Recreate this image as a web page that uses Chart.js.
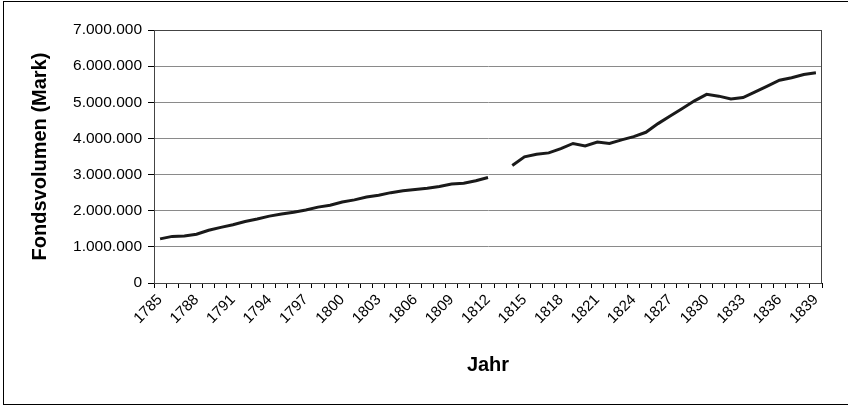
<!DOCTYPE html>
<html>
<head>
<meta charset="utf-8">
<script src="https://cdn.jsdelivr.net/npm/chart.js@4/dist/chart.umd.min.js"></script>
<style>
    html, body { margin: 0; padding: 0; background: #fff; overflow: hidden; }
    #wrap { position: relative; width: 848px; height: 407px; }
    #frame {
        position: absolute; left: 3px; top: 1px; width: 860px; height: 402px;
        border: 1px solid #000; pointer-events: none;
    }
</style>
</head>
<body>
<div id="wrap">
    <canvas id="fondsChart" width="848" height="407"></canvas>
    <div id="frame"></div>
</div>
<script>
const years = [
    "1785", "1786", "1787", "1788", "1789", "1790", "1791", "1792", "1793", "1794",
    "1795", "1796", "1797", "1798", "1799", "1800", "1801", "1802", "1803", "1804",
    "1805", "1806", "1807", "1808", "1809", "1810", "1811", "1812", "1813", "1814",
    "1815", "1816", "1817", "1818", "1819", "1820", "1821", "1822", "1823", "1824",
    "1825", "1826", "1827", "1828", "1829", "1830", "1831", "1832", "1833", "1834",
    "1835", "1836", "1837", "1838", "1839"
];

// Fondsvolumen in Mark (1813 fehlt)
const fondsVolumen = [
    1220000, 1290000, 1300000, 1350000, 1460000, 1540000, 1610000, 1700000, 1770000, 1850000,
    1910000, 1960000, 2020000, 2100000, 2150000, 2240000, 2300000, 2380000, 2430000, 2500000,
    2550000, 2590000, 2620000, 2670000, 2740000, 2760000, 2830000, 2920000, null, 3250000,
    3490000, 3560000, 3600000, 3720000, 3860000, 3790000, 3900000, 3860000, 3960000, 4050000,
    4170000, 4410000, 4620000, 4830000, 5040000, 5220000, 5170000, 5090000, 5130000, 5290000,
    5450000, 5610000, 5680000, 5770000, 5820000
];

const yTicks = [0, 1000000, 2000000, 3000000, 4000000, 5000000, 6000000, 7000000];
const labelEvery = 3;

const fontFamily = "'Liberation Sans', Arial, sans-serif";

function formatMark(value) {
    return String(value).replace(/\B(?=(\d{3})+(?!\d))/g, ".");
}

new Chart(document.getElementById("fondsChart"), {
    type: "line",
    data: {
        labels: years,
        datasets: [
            {
                label: "Fondsvolumen",
                data: fondsVolumen,
                borderColor: "#1a1a1a",
                borderWidth: 3,
                pointRadius: 0,
                tension: 0,
                spanGaps: false,
                fill: false
            }
        ]
    },
    options: {
        responsive: false,
        animation: false,
        layout: {
            padding: { top: 30, right: 26, bottom: 0, left: 0 }
        },
        plugins: {
            legend: { display: false },
            tooltip: { enabled: false }
        },
        scales: {
            x: {
                type: "category",
                offset: true,
                afterFit: (scale) => { scale.height = 124; },
                border: { color: "#000", width: 1 },
                grid: {
                    offset: true,
                    drawOnChartArea: false,
                    drawTicks: true,
                    tickLength: 5,
                    color: "#000"
                },
                ticks: {
                    autoSkip: false,
                    maxRotation: 45,
                    minRotation: 45,
                    padding: 3,
                    color: "#000",
                    font: { family: fontFamily, size: 15 },
                    callback: function (value, index) {
                        return index % labelEvery === 0 ? this.getLabelForValue(value) : "";
                    }
                },
                title: {
                    display: true,
                    text: "Jahr",
                    color: "#000",
                    font: { family: fontFamily, size: 20, weight: "bold" },
                    padding: { top: 0, bottom: 30 }
                }
            },
            y: {
                min: 0,
                max: 7000000,
                afterFit: (scale) => { scale.width = 154; },
                afterBuildTicks: (scale) => {
                    scale.ticks = yTicks.map((v) => ({ value: v }));
                },
                border: { color: "#000", width: 1 },
                grid: {
                    color: "#8a8a8a",
                    lineWidth: 1,
                    tickLength: 6,
                    tickColor: "#000"
                },
                ticks: {
                    padding: 6,
                    color: "#000",
                    font: { family: fontFamily, size: 15.5 },
                    callback: (value) => formatMark(value)
                },
                title: {
                    display: true,
                    text: "Fondsvolumen (Mark)",
                    color: "#000",
                    font: { family: fontFamily, size: 20, weight: "bold" },
                    padding: { top: 28, bottom: 0 }
                }
            }
        }
    },
    plugins: [
        {
            id: "plotFrame",
            afterDraw(chart) {
                const { ctx, chartArea } = chart;
                ctx.save();
                ctx.strokeStyle = "#444";
                ctx.lineWidth = 1;
                ctx.strokeRect(chartArea.left + 0.5, chartArea.top + 0.5,
                    chartArea.right - chartArea.left - 1, chartArea.bottom - chartArea.top);
                ctx.restore();
            }
        }
    ]
});
</script>
</body>
</html>
